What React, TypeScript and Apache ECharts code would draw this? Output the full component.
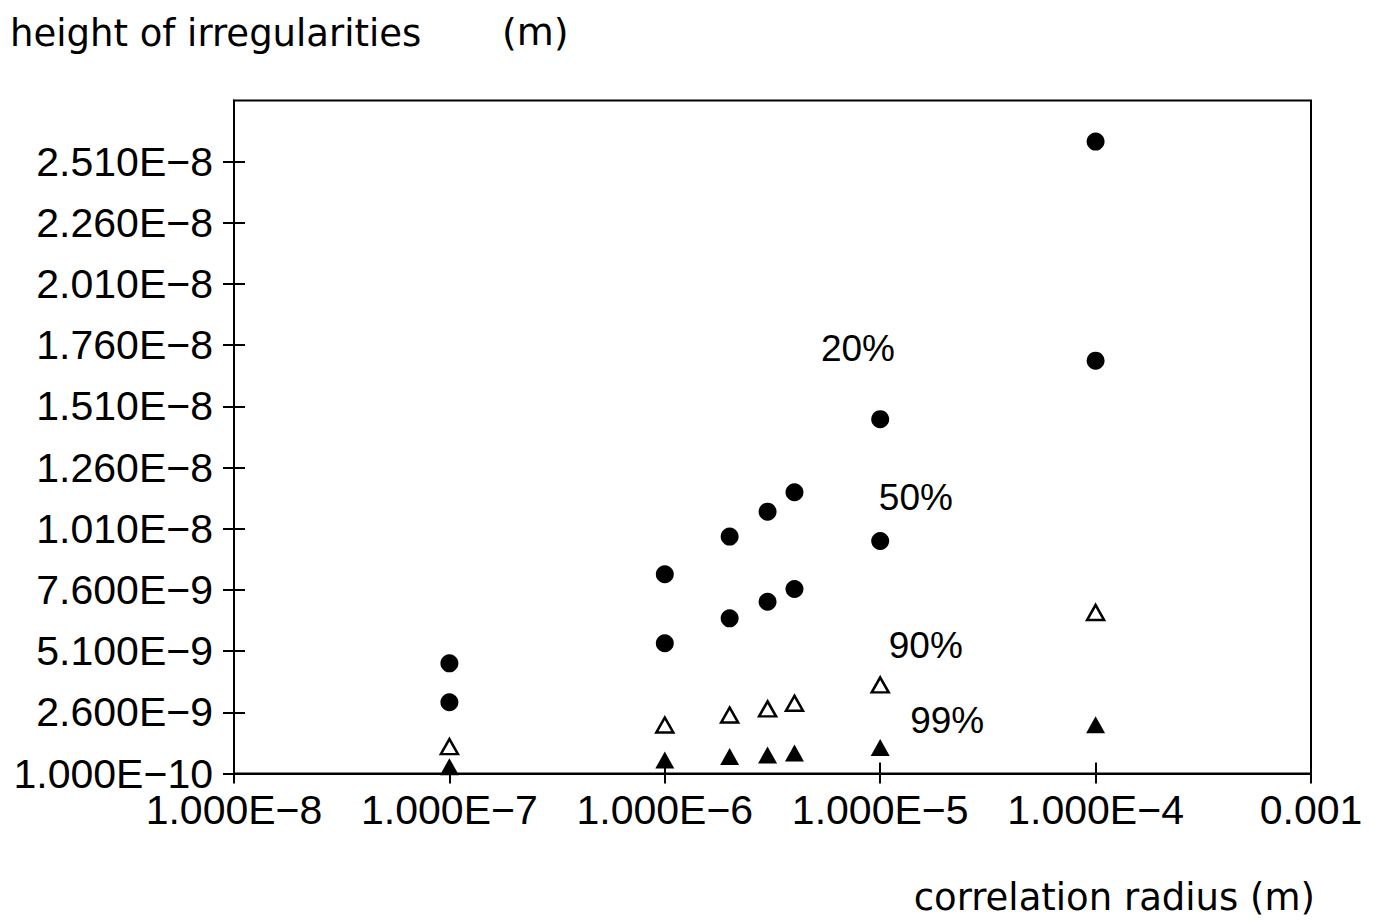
import React, { useEffect, useRef } from "react";
import * as echarts from "echarts";

// correlation radius (m)
const radii = [1e-7, 1e-6, 2e-6, 3e-6, 4e-6, 1e-5, 1e-4];
// height of irregularities (m)
const h20 = [4.6e-9, 8.24e-9, 9.78e-9, 1.08e-8, 1.159e-8, 1.458e-8, 2.592e-8];
const h50 = [3.01e-9, 5.42e-9, 6.44e-9, 7.12e-9, 7.64e-9, 9.6e-9, 1.697e-8];
const h90 = [1.2e-9, 2.08e-9, 2.49e-9, 2.74e-9, 2.97e-9, 3.72e-9, 6.68e-9];
const h99 = [3.8e-10, 6.5e-10, 7.9e-10, 8.6e-10, 9.4e-10, 1.16e-9, 2.09e-9];

const yTicks = [
  1e-10, 2.6e-9, 5.1e-9, 7.6e-9, 1.01e-8, 1.26e-8, 1.51e-8, 1.76e-8, 2.01e-8, 2.26e-8, 2.51e-8,
];
const yMin = 1e-10;
const yMax = 2.76e-8;
const xMin = 1e-8;
const xMax = 1e-3;

// curve labels, anchored at data coordinates
const curveNames = ["20%", "50%", "90%", "99%"];
const curveLabelX = [5.28e-6, 9.8e-6, 1.09e-5, 1.37e-5];
const curveLabelY = [1.746e-8, 1.137e-8, 5.33e-9, 2.27e-9];

const fmtExp = (v: number) => {
  const s = v.toExponential(3);
  const [m, e] = s.split("e");
  const exp = parseInt(e, 10);
  return m + "E" + (exp < 0 ? "\u2212" + Math.abs(exp) : String(exp));
};

const fmtX = (v: number) => (v >= 0.00099 ? "0.001" : fmtExp(v));

const TICK_FONT = "'Liberation Sans', Arial, sans-serif";
const TITLE_FONT = "'DejaVu Sans', sans-serif";

export default function App() {
  const ref = useRef<HTMLDivElement>(null);
  useEffect(() => {
    if (!ref.current) return;
    const chart = echarts.init(ref.current, null, { renderer: "svg" });
    const pts = (ys: number[]) => radii.map((x, i) => [x, ys[i]]);
    const option: any = {
      animation: false,
      backgroundColor: "#fff",
      grid: {
        left: 234,
        right: 62,
        top: 100.5,
        bottom: 147.5,
        show: true,
        borderColor: "#000",
        borderWidth: 2,
        containLabel: false,
        outerBoundsMode: "none",
      },
      xAxis: [
        {
          type: "log",
          logBase: 10,
          min: xMin,
          max: xMax,
          position: "bottom",
          axisLine: { show: true, lineStyle: { color: "#000", width: 2 } },
          axisTick: { show: true, inside: false, length: 10, lineStyle: { color: "#000", width: 2 } },
          minorTick: { show: false },
          splitLine: { show: false },
          axisLabel: {
            show: true,
            margin: 16,
            color: "#000",
            fontFamily: TICK_FONT,
            fontSize: 41,
            formatter: (v: number) => fmtX(v),
            showMinLabel: true,
            showMaxLabel: true,
            hideOverlap: false,
          },
        },
        {
          type: "log",
          logBase: 10,
          min: xMin,
          max: xMax,
          position: "bottom",
          axisLine: { show: false },
          axisTick: { show: true, inside: true, length: 11, lineStyle: { color: "#000", width: 2 } },
          splitLine: { show: false },
          axisLabel: { show: false },
        },
      ],
      yAxis: [
        {
          type: "value",
          min: yMin,
          max: yMax,
          position: "left",
          axisLine: { show: true, lineStyle: { color: "#000", width: 2 } },
          axisTick: {
            show: true,
            inside: false,
            length: 11,
            customValues: yTicks,
            lineStyle: { color: "#000", width: 2 },
          },
          splitLine: { show: false },
          axisLabel: {
            show: true,
            margin: 21,
            color: "#000",
            fontFamily: TICK_FONT,
            fontSize: 41,
            customValues: yTicks,
            formatter: (v: number) => fmtExp(v),
          },
        },
        {
          type: "value",
          min: yMin,
          max: yMax,
          position: "left",
          axisLine: { show: false },
          axisTick: {
            show: true,
            inside: true,
            length: 11,
            customValues: yTicks,
            lineStyle: { color: "#000", width: 2 },
          },
          splitLine: { show: false },
          axisLabel: { show: false },
        },
      ],
      series: [
        {
          name: "20%",
          type: "scatter",
          symbol: "circle",
          symbolSize: 18,
          itemStyle: { color: "#000", opacity: 1 },
          data: pts(h20),
        },
        {
          name: "50%",
          type: "scatter",
          symbol: "circle",
          symbolSize: 18,
          itemStyle: { color: "#000", opacity: 1 },
          data: pts(h50),
        },
        {
          name: "90%",
          type: "scatter",
          symbol: "triangle",
          symbolSize: [17, 15],
          itemStyle: { color: "#fff", borderColor: "#000", borderWidth: 2.5, opacity: 1 },
          data: pts(h90),
        },
        {
          name: "99%",
          type: "scatter",
          symbol: "triangle",
          symbolSize: [19, 17],
          itemStyle: { color: "#000", opacity: 1 },
          data: pts(h99),
        },
        {
          name: "labels",
          type: "scatter",
          symbolSize: 1,
          itemStyle: { color: "#fff", opacity: 1 },
          silent: true,
          z: 1,
          label: {
            show: true,
            position: "right",
            distance: 0,
            color: "#000",
            opacity: 1,
            fontFamily: TICK_FONT,
            fontSize: 37,
            formatter: (p: any) => p.name,
          },
          data: curveNames.map((n, i) => ({ name: n, value: [curveLabelX[i], curveLabelY[i]] })),
        },
      ],
      graphic: [
        {
          type: "text",
          left: 10,
          top: 15,
          style: {
            text: "height of irregularities",
            fill: "#000",
            font: `37px ${TITLE_FONT}`,
          },
        },
        {
          type: "text",
          left: 502,
          top: 13,
          style: { text: "(m)", fill: "#000", font: `38px ${TITLE_FONT}` },
        },
        {
          type: "text",
          right: 58,
          top: 879,
          style: {
            text: "correlation radius (m)",
            fill: "#000",
            font: `37px ${TITLE_FONT}`,
          },
        },
      ],
    };
    chart.setOption(option);
    return () => chart.dispose();
  }, []);
  return (
    <div
      ref={ref}
      style={{ position: "absolute", left: 0, top: 0, width: 1373, height: 921, background: "#fff" }}
    />
  );
}
